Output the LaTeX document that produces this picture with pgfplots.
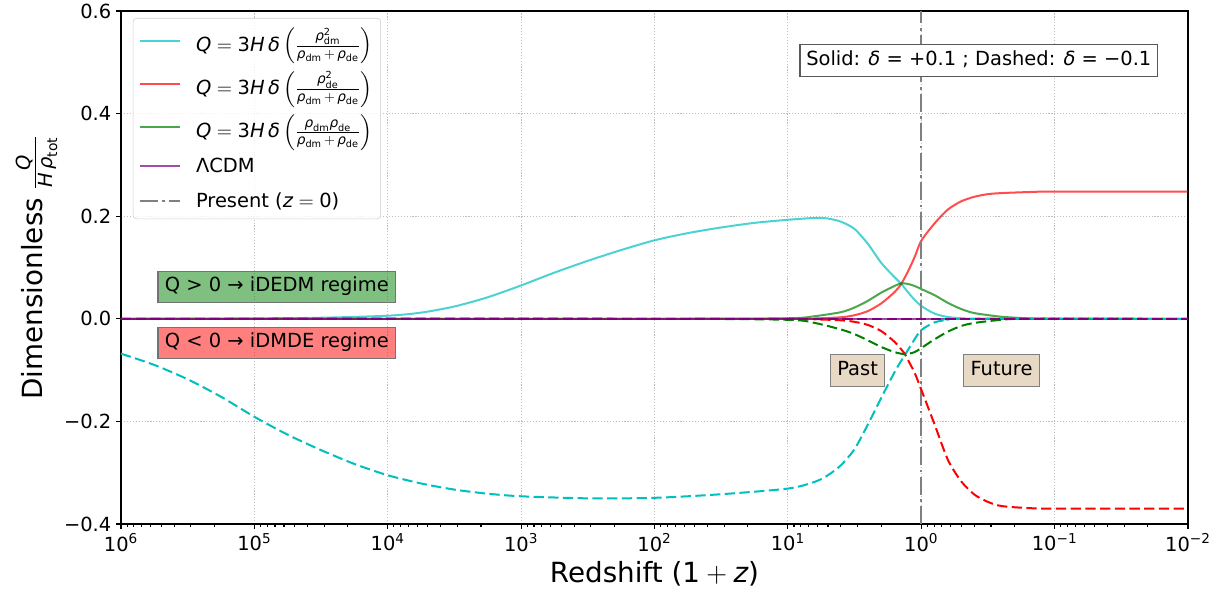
\documentclass[border=0pt]{standalone}
\usepackage{amsmath}
\usepackage{fontspec}
\setmainfont{DejaVu Sans}
\usepackage{pgfplots}
\usepackage{pgfplotstable}
\pgfplotsset{compat=1.18}

\definecolor{mplcyan}{RGB}{0,191,191}
\definecolor{mplred}{RGB}{255,0,0}
\definecolor{mplgreen}{RGB}{0,128,0}
\definecolor{mplpurple}{RGB}{128,0,128}
\definecolor{boxtan}{RGB}{232,217,197}
\definecolor{gridgray}{RGB}{190,190,190}

\newcommand{\mi}[1]{\text{\itshape #1}}
\newcommand{\sdm}{\text{dm}}
\newcommand{\sde}{\text{de}}
\newcommand{\den}{\mi{ρ}_{\sdm}\,{+}\,\mi{ρ}_{\sde}}

% x = 1+z, y = Q/(H rho_tot); solid: delta=+0.1, dashed: delta=-0.1
\pgfplotstableread{
x y
1e6 0.0000
3.162e5 0.0003
1e5 0.0008
3.162e4 0.0020
1e4 0.0060
5.623e3 0.0120
3.162e3 0.0240
1.778e3 0.0420
1e3 0.0650
5.623e2 0.0900
3.162e2 0.1130
1.778e2 0.1340
1e2 0.1530
5.623e1 0.1670
3.162e1 0.1780
1.778e1 0.1870
1e1 0.1930
6.310 0.1965
5.012 0.1955
3.981 0.1890
3.162 0.1750
2.512 0.1460
1.995 0.1090
1.585 0.0810
1.413 0.0680
1.259 0.0520
1.122 0.0370
1.000 0.0250
0.7943 0.0100
0.631 0.0035
0.5012 0.0010
0.3981 0.0003
0.1 0.0
0.01 0.0
}\cyanpos

\pgfplotstableread{
x y
1e6 0.0
1e1 0.0
6.310 0.0005
3.981 0.003
3.162 0.007
2.512 0.015
1.995 0.030
1.585 0.052
1.413 0.068
1.259 0.092
1.122 0.120
1.000 0.152
0.7943 0.186
0.631 0.213
0.5012 0.229
0.3981 0.238
0.3162 0.243
0.2512 0.245
0.1585 0.247
0.1 0.248
0.01 0.248
}\redpos

\pgfplotstableread{
x y
1e6 0.0
1e2 0.0
1e1 0.001
6.310 0.005
3.981 0.013
3.162 0.022
2.512 0.035
1.995 0.051
1.585 0.064
1.413 0.069
1.259 0.068
1.122 0.064
1.000 0.058
0.7943 0.046
0.631 0.031
0.5012 0.019
0.3981 0.011
0.2512 0.004
0.1585 0.001
0.1 0.0
0.01 0.0
}\greenpos

\pgfplotstableread{
x y
1e6 -0.068
5.623e5 -0.090
3.162e5 -0.118
1.778e5 -0.152
1e5 -0.191
5.623e4 -0.226
3.162e4 -0.256
1.778e4 -0.283
1e4 -0.305
5.623e3 -0.321
3.162e3 -0.333
1.778e3 -0.341
1e3 -0.346
3.162e2 -0.350
1e2 -0.349
3.162e1 -0.342
1e1 -0.331
6.310 -0.318
5.012 -0.305
3.981 -0.285
3.162 -0.254
2.512 -0.206
1.995 -0.154
1.585 -0.104
1.413 -0.082
1.259 -0.061
1.122 -0.040
1.000 -0.022
0.7943 -0.007
0.631 -0.002
0.5012 0.0
0.01 0.0
}\cyanneg

\pgfplotstableread{
x y
1e6 0.0
1e1 0.0
6.310 -0.001
3.981 -0.003
3.162 -0.006
2.512 -0.012
1.995 -0.024
1.585 -0.045
1.349 -0.066
1.259 -0.080
1.122 -0.105
1.000 -0.138
0.7943 -0.206
0.631 -0.275
0.5012 -0.317
0.3981 -0.343
0.3162 -0.357
0.2512 -0.365
0.1585 -0.369
0.1 -0.370
0.01 -0.370
}\redneg

\pgfplotstableread{
x y
1e6 0.0
1e2 0.0
1e1 -0.002
6.310 -0.008
3.981 -0.021
3.162 -0.030
2.512 -0.042
1.995 -0.055
1.585 -0.065
1.318 -0.069
1.122 -0.065
1.000 -0.057
0.7943 -0.040
0.631 -0.025
0.5012 -0.014
0.3981 -0.008
0.2512 -0.002
0.1585 0.0
0.01 0.0
}\greenneg

\begin{document}
\begin{tikzpicture}
\begin{axis}[
  scale only axis,
  width=768.24pt, height=369.36pt,
  xmode=log, x dir=reverse,
  xmin=1e-2, xmax=1e6, ymin=-0.4, ymax=0.6,
  xtick={1e-2,1e-1,1,1e1,1e2,1e3,1e4,1e5,1e6},
  xticklabels={10\textsuperscript{−2},10\textsuperscript{−1},10\textsuperscript{0},10\textsuperscript{1},10\textsuperscript{2},10\textsuperscript{3},10\textsuperscript{4},10\textsuperscript{5},10\textsuperscript{6}},
  ytick={-0.4,-0.2,0,0.2,0.4,0.6},
  yticklabels={−0.4,−0.2,0.0,0.2,0.4,0.6},
  tick pos=left, tick align=outside,
  major tick length=3.5pt, minor tick length=2pt,
  every tick/.style={black, line width=0.8pt},
  ticklabel style={font=\fontsize{14}{17}\selectfont},
  label style={font=\fontsize{20}{24}\selectfont},
  xlabel={Redshift ($\text{1}+\mi{z}$)},
  ylabel={Dimensionless $\frac{\mi{Q}}{\mi{H}\,\mi{ρ}_{\text{tot}}}$},
  ylabel style={yshift=-2pt},
  grid=major,
  grid style={gridgray, line width=0.8pt, dash pattern=on 0.8pt off 1.32pt},
  axis line style={black, line width=0.8pt},
  legend image code/.code={\draw[#1] (0pt,0pt) -- (28.8pt,0pt);},
  legend style={at={(0.0112,0.9864)}, anchor=north west,
    draw=black!20, rounded corners=2.5pt, fill=white, fill opacity=0.8, text opacity=1,
    font=\fontsize{14}{17}\selectfont, cells={anchor=west},
    inner xsep=4pt, inner ysep=5pt, row sep=9pt,
    /tikz/every odd column/.append style={column sep=9pt}},
  solidline/.style={line width=1.44pt, draw opacity=0.7, smooth, tension=0.45},
  dashedline/.style={line width=1.44pt, dash pattern=on 7.4pt off 3.2pt, smooth, tension=0.45},
]
\addplot[solidline, mplcyan] table {\cyanpos};
\addlegendentry{$\mi{Q}=\text{3}\mi{H}\,\mi{δ}\left(\frac{\mi{ρ}^{\text{2}}_{\sdm}}{\den}\right)$}
\addplot[solidline, mplred] table {\redpos};
\addlegendentry{$\mi{Q}=\text{3}\mi{H}\,\mi{δ}\left(\frac{\mi{ρ}^{\text{2}}_{\sde}}{\den}\right)$}
\addplot[solidline, mplgreen] table {\greenpos};
\addlegendentry{$\mi{Q}=\text{3}\mi{H}\,\mi{δ}\left(\frac{\mi{ρ}_{\sdm}\mi{ρ}_{\sde}}{\den}\right)$}
\addplot[line width=1.44pt, draw opacity=0.7, mplpurple] coordinates {(1e6,0) (1e-2,0)};
\addlegendentry{ΛCDM}
\addplot[gray, line width=1.44pt, dash pattern=on 12.8pt off 3.2pt on 2pt off 3.2pt] coordinates {(1,-0.4) (1,0.6)};
\addlegendentry{Present ($\mi{z}=\text{0}$)}

\addplot[dashedline, mplcyan, forget plot] table {\cyanneg};
\addplot[dashedline, mplred, forget plot] table {\redneg};
\addplot[dashedline, mplgreen, forget plot] table {\greenneg};
\addplot[line width=1.44pt, dash pattern=on 7.4pt off 3.2pt, mplpurple, forget plot] coordinates {(1e6,0) (1e-2,0)};

\node[draw=black!65, fill=white, line width=0.8pt, inner xsep=4.5pt, inner ysep=4.5pt,
  text height=10.5pt, text depth=3.3pt, font=\fontsize{14}{17}\selectfont]
  at (axis cs:0.37,0.503) {Solid: \textit{δ} = +0.1 ; Dashed: \textit{δ} = −0.1};
\node[draw=black!55, fill=mplgreen, fill opacity=0.5, text opacity=1, draw opacity=1, line width=0.8pt,
  inner xsep=5pt, inner ysep=4.5pt, text height=10.5pt, text depth=3.3pt, font=\fontsize{14}{17}\selectfont]
  at (axis cs:67800,0.062) {Q > 0 → iDEDM regime};
\node[draw=black!55, fill=mplred, fill opacity=0.5, text opacity=1, draw opacity=1, line width=0.8pt,
  inner xsep=5pt, inner ysep=4.5pt, text height=10.5pt, text depth=3.3pt, font=\fontsize{14}{17}\selectfont]
  at (axis cs:67800,-0.047) {Q < 0 → iDMDE regime};
\node[draw=black!50, fill=boxtan, line width=0.8pt,
  inner xsep=5pt, inner ysep=4.5pt, text height=10.5pt, text depth=3.3pt, font=\fontsize{14}{17}\selectfont]
  at (axis cs:3,-0.101) {Past};
\node[draw=black!50, fill=boxtan, line width=0.8pt,
  inner xsep=5pt, inner ysep=4.5pt, text height=10.5pt, text depth=3.3pt, font=\fontsize{14}{17}\selectfont]
  at (axis cs:0.25,-0.101) {Future};
\end{axis}
\pgfresetboundingbox
\path[use as bounding box] ([shift={(-471.24pt,-48.24pt)}]current axis.south) rectangle ([shift={(415.8pt,7.92pt)}]current axis.north);
\end{tikzpicture}
\end{document}
